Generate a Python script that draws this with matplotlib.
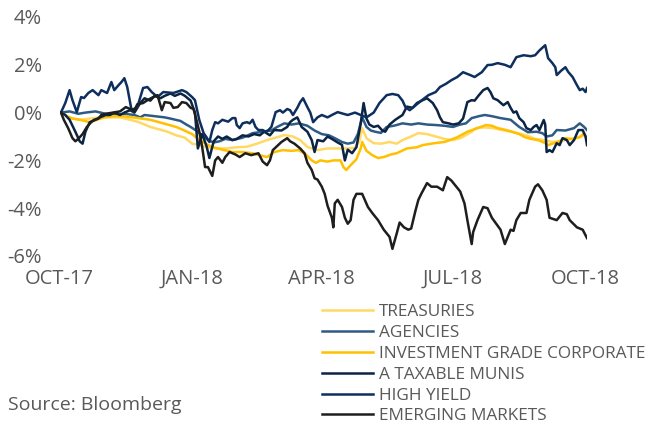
import matplotlib
matplotlib.use("Agg")
import matplotlib.pyplot as plt
import pandas as pd

plt.rcParams['font.family'] = ['Open Sans', 'DejaVu Sans']

start = pd.Timestamp("2017-10-02")

# cumulative excess return (%), days counted from 2 Oct 2017
treasuries_days = [0, 4, 8, 14, 20, 27, 34, 41, 48, 54, 62, 68, 74, 80, 86, 91, 96, 101, 108, 115,
                   122, 129, 136, 143, 149, 155, 161, 166, 171, 178, 185, 192, 199, 204, 207, 209,
                   212, 217, 222, 228, 233, 237, 243, 248, 254, 260, 266, 272, 278, 281, 285, 288,
                   294, 300, 306, 312, 317, 323, 329, 335, 341, 346, 350, 355, 359, 363, 365]
treasuries = [0, -0.15, -0.25, -0.3, -0.25, -0.2, -0.2, -0.2, -0.3, -0.4, -0.6, -0.7, -0.8, -0.95,
              -1.05, -1.3, -1.35, -1.44, -1.5, -1.5, -1.45, -1.43, -1.3, -1.15, -1.05, -0.94, -1.0,
              -1.15, -1.44, -1.57, -1.5, -1.5, -1.5, -1.48, -1.2, -0.65, -1.07, -1.28, -1.3, -1.23,
              -1.3, -1.15, -1.0, -0.86, -0.9, -1.0, -1.1, -1.15, -1.05, -0.94, -0.8, -0.65, -0.62,
              -0.65, -0.73, -0.8, -0.86, -0.95, -1.1, -1.15, -1.23, -1.2, -1.15, -1.1, -1.03, -0.95,
              -1.0]

agencies_days = [0, 6, 12, 17, 24, 31, 37, 44, 51, 55, 58, 65, 72, 76, 83, 87, 90, 95, 98, 102,
                 106, 110, 114, 119, 126, 133, 140, 146, 150, 155, 160, 165, 171, 176, 181, 186,
                 191, 195, 199, 203, 206, 209, 212, 215, 218, 222, 226, 231, 237, 243, 248, 254,
                 260, 266, 272, 277, 281, 285, 290, 294, 299, 305, 312, 318, 324, 330, 334, 337,
                 341, 344, 350, 356, 360, 363, 365]
agencies = [0, 0.05, -0.05, 0.0, 0.05, -0.05, -0.1, -0.05, -0.1, -0.2, -0.1, -0.15, -0.2, -0.25,
            -0.35, -0.5, -0.6, -0.8, -0.95, -1.15, -1.25, -1.2, -1.1, -1.15, -1.05, -0.86, -0.8,
            -0.75, -0.6, -0.45, -0.5, -0.45, -0.55, -0.75, -0.9, -0.95, -1.1, -1.23, -1.3, -1.25,
            -0.9, -0.2, -0.6, -0.75, -0.8, -0.85, -0.6, -0.55, -0.45, -0.5, -0.45, -0.5, -0.52,
            -0.55, -0.6, -0.5, -0.45, -0.23, -0.15, -0.1, -0.15, -0.23, -0.3, -0.6, -0.82, -0.8,
            -0.86, -1.0, -0.95, -0.73, -0.75, -0.65, -0.45, -0.6, -0.73]

ig_days = [0, 4, 8, 13, 20, 25, 30, 36, 43, 50, 56, 62, 68, 74, 80, 85, 91, 96, 102, 105, 112,
           119, 126, 133, 139, 143, 148, 154, 160, 165, 170, 174, 177, 180, 185, 189, 194, 196,
           198, 201, 205, 208, 209, 212, 216, 220, 224, 229, 233, 240, 247, 251, 259, 266, 270,
           275, 282, 289, 295, 299, 303, 309, 313, 318, 322, 326, 331, 335, 338, 341, 346, 349,
           355, 360, 363, 365]
ig = [0, -0.15, -0.25, -0.3, -0.4, -0.3, -0.2, -0.15, -0.15, -0.2, -0.25, -0.3, -0.4, -0.5, -0.6,
      -0.73, -0.9, -1.15, -1.35, -1.44, -1.55, -1.65, -1.65, -1.7, -1.8, -1.86, -1.65, -1.57,
      -1.6, -1.57, -1.75, -2.0, -2.1, -2.0, -2.05, -2.0, -2.0, -2.28, -2.4, -2.2, -1.95, -1.5,
      -1.23, -1.6, -1.78, -1.9, -1.86, -1.75, -1.7, -1.5, -1.45, -1.36, -1.28, -1.23, -1.15,
      -1.03, -0.8, -0.65, -0.52, -0.55, -0.65, -0.73, -0.8, -0.9, -1.03, -1.1, -1.15, -1.25,
      -1.36, -1.3, -1.2, -1.07, -1.1, -1.03, -0.86, -1.15]

munis_days = [0, 3, 6, 10, 13, 15, 17, 20, 24, 27, 31, 34, 37, 41, 44, 48, 51, 55, 58, 62, 65,
              69, 72, 76, 79, 83, 86, 90, 93, 95, 98, 101, 103, 106, 109, 112, 115, 119, 122,
              126, 130, 134, 138, 141, 145, 148, 153, 157, 159, 161, 164, 167, 171, 174, 176,
              178, 182, 185, 188, 192, 195, 197, 199, 202, 205, 208, 210, 212, 214, 217, 220,
              223, 225, 228, 232, 237, 240, 244, 247, 251, 254, 258, 261, 263, 265, 269, 272,
              276, 279, 282, 285, 287, 290, 293, 296, 298, 300, 303, 307, 310, 312, 314, 316,
              318, 321, 323, 326, 328, 330, 332, 335, 336, 337, 339, 341, 344, 346, 348, 351,
              353, 356, 359, 362, 364, 365]
munis = [0, -0.1, -0.3, -0.8, -1.2, -1.3, -0.8, -0.4, -0.3, -0.2, -0.1, -0.1, 0.0, -0.1, 0.0,
         0.1, 0.0, 0.4, 0.6, 0.5, 0.7, 0.6, 0.7, 0.8, 0.7, 0.8, 0.7, 0.5, 0.0, -1.5, -0.9, -1.4,
         -1.9, -1.2, -1.0, -1.1, -1.0, -1.15, -1.1, -0.95, -1.0, -0.9, -0.95, -0.8, -0.95, -0.73,
         -0.75, -0.6, -0.4, -0.3, -0.2, -0.6, -0.8, -1.15, -1.65, -1.15, -1.2, -1.0, -1.1, -1.25,
         -1.35, -2.0, -1.55, -1.7, -1.45, -0.45, 0.4, -0.25, -0.5, -0.6, -0.55, -0.75, -0.8,
         -0.5, -0.3, -0.1, 0.25, 0.2, 0.4, 0.52, 0.6, 0.4, 0.1, -0.2, -0.4, -0.45, -0.5, -0.45,
         -0.25, 0.44, 0.52, 0.5, 0.73, 0.94, 1.03, 0.86, 0.6, 0.52, 0.31, 0.44, 0.2, 0.0, 0.05,
         -0.23, -0.4, -0.65, -0.73, -0.6, -0.52, -0.73, -0.31, -0.5, -1.65, -1.57, -1.65, -1.28,
         -1.36, -1.07, -1.15, -1.36, -1.15, -0.73, -0.73, -1.0, -1.36]

hy_days = [0, 3, 6, 8, 11, 14, 16, 19, 22, 26, 28, 32, 35, 37, 40, 42, 44, 46, 49, 53, 57, 60,
           63, 67, 71, 78, 84, 87, 91, 93, 96, 99, 101, 103, 105, 107, 109, 112, 116, 119, 121,
           122, 124, 126, 129, 131, 133, 135, 137, 140, 142, 144, 146, 149, 152, 154, 157, 159,
           161, 164, 166, 168, 171, 173, 175, 178, 181, 185, 188, 192, 196, 199, 204, 208, 212,
           217, 221, 226, 230, 234, 237, 239, 242, 246, 250, 255, 260, 263, 267, 271, 275, 279,
           284, 287, 292, 296, 299, 303, 308, 312, 316, 321, 326, 329, 332, 336, 338, 341, 343,
           344, 347, 350, 352, 355, 358, 360, 362, 364, 365]
hy = [0, 0.4, 0.94, 0.52, 0.02, 0.65, 0.61, 0.82, 0.94, 0.73, 0.94, 0.82, 1.28, 0.94, 1.15, 1.28,
      1.44, 1.07, 0.1, 0.23, 1.03, 1.07, 0.86, 0.65, 0.86, 0.82, 0.94, 0.86, 0.65, 0.52, -0.31,
      -0.86, -1.03, -1.23, -0.73, -0.4, -0.45, -0.3, -0.38, -0.23, -0.23, -0.52, -0.65, -0.45,
      -0.4, -0.45, -0.3, -0.6, -0.73, -0.73, -0.8, -0.73, -0.6, 0.02, 0.1, 0.0, 0.15, 0.1, -0.1,
      0.2, 0.44, 0.6, 0.23, 0.0, -0.4, -0.2, -0.1, -0.2, -0.1, 0.02, -0.05, -0.1, 0.0, -0.1,
      -0.2, 0.0, 0.4, 0.73, 0.78, 0.73, 0.5, 0.23, 0.1, 0.3, 0.5, 0.73, 0.86, 1.07, 1.2, 1.36,
      1.49, 1.69, 1.57, 1.49, 1.69, 1.99, 2.0, 2.07, 2.0, 1.9, 2.32, 2.4, 2.36, 2.4, 2.6, 2.82,
      2.28, 2.07, 1.9, 1.57, 1.75, 1.9, 1.7, 1.49, 1.15, 0.94, 1.0, 0.86, 1.03]

em_days = [0, 2, 5, 8, 10, 12, 15, 18, 21, 23, 26, 28, 31, 36, 41, 45, 48, 51, 53, 57, 60, 64,
           67, 70, 72, 76, 78, 81, 84, 87, 90, 92, 94, 96, 98, 100, 102, 105, 107, 109, 112, 114,
           117, 121, 124, 128, 132, 137, 140, 143, 145, 147, 150, 153, 157, 159, 162, 166, 169,
           171, 174, 176, 178, 181, 183, 185, 188, 189, 190, 192, 195, 197, 199, 201, 203, 205,
           209, 213, 216, 220, 224, 228, 230, 233, 235, 238, 241, 243, 246, 248, 250, 254, 257,
           261, 265, 268, 271, 273, 277, 280, 282, 285, 286, 289, 293, 296, 299, 305, 308, 312,
           314, 316, 319, 323, 325, 329, 331, 334, 337, 339, 344, 348, 351, 353, 358, 362, 365]
em = [0, -0.3, -0.65, -1.07, -1.2, -1.1, -0.9, -0.6, -0.4, -0.3, -0.25, -0.1, -0.05, 0.0, 0.05,
      0.23, 0.15, 0.1, 0.35, 0.4, 0.52, 0.65, 0.73, 0.1, 0.44, 0.4, 0.2, 0.23, 0.44, 0.4, 0.2,
      0.15, -0.3, -0.8, -1.44, -2.28, -2.28, -2.65, -2.0, -1.86, -2.1, -1.86, -1.65, -1.75,
      -1.86, -1.7, -1.78, -1.7, -2.05, -2.2, -2.0, -1.57, -1.4, -1.23, -1.07, -1.2, -1.3, -1.5,
      -1.7, -2.1, -2.4, -2.75, -2.8, -3.1, -3.4, -3.9, -4.4, -4.8, -3.8, -3.65, -3.95, -4.4,
      -4.65, -4.5, -3.65, -3.4, -3.4, -3.95, -4.2, -4.5, -4.9, -5.2, -5.7, -5.05, -4.6, -4.8,
      -4.9, -4.85, -4.1, -3.65, -3.4, -2.95, -3.1, -3.1, -3.25, -2.7, -2.85, -3.0, -3.3, -3.8,
      -4.5, -5.5, -5.0, -4.5, -3.95, -4.0, -4.4, -4.9, -5.5, -4.9, -4.95, -4.5, -4.2, -4.2,
      -3.65, -3.1, -3.0, -3.25, -3.65, -4.4, -4.5, -4.2, -4.25, -4.5, -4.8, -4.9, -5.25]

series = [
    ("TREASURIES", treasuries_days, treasuries, "#FFD966"),
    ("AGENCIES", agencies_days, agencies, "#2E5B86"),
    ("INVESTMENT GRADE CORPORATE", ig_days, ig, "#FFC000"),
    ("A TAXABLE MUNIS", munis_days, munis, "#0B2443"),
    ("HIGH YIELD", hy_days, hy, "#0E2F5E"),
    ("EMERGING MARKETS", em_days, em, "#1E1E1E"),
]

tick_dates = ["2017-10-01", "2018-01-01", "2018-04-01", "2018-07-01", "2018-10-01"]
tick_labels = ["OCT-17", "JAN-18", "APR-18", "JUL-18", "OCT-18"]
y_ticks = [-6, -4, -2, 0, 2, 4]

grey = "#595959"

fig = plt.figure(figsize=(6.5, 4.25), dpi=100)
ax = fig.add_axes([59.5 / 650, 1 - 256 / 425, (587 - 59.5) / 650, (256 - 17) / 425])

for name, days, vals, color in series:
    dates = start + pd.to_timedelta(days, unit="D")
    ax.plot(dates, vals, color=color, lw=1.8, label=name, solid_joinstyle="round")

ax.set_xlim(pd.Timestamp("2017-10-01"), pd.Timestamp("2018-10-02"))
ax.set_ylim(-6, 4)
ax.set_yticks(y_ticks)
ax.set_yticklabels([f"{t}%" for t in y_ticks])
ax.set_xticks(pd.to_datetime(tick_dates))
ax.set_xticklabels(tick_labels)
for s in ax.spines.values():
    s.set_visible(False)
ax.tick_params(length=0, colors=grey, labelsize=14.5)
ax.tick_params(axis="y", pad=12.5)
ax.tick_params(axis="x", pad=9)

fig.legend(loc="upper left", bbox_to_anchor=(322 / 650, 1 - 304 / 425), frameon=False,
           fontsize=12.4, labelcolor=grey, handlelength=2.95, handletextpad=0.36,
           labelspacing=0.28, borderpad=0, borderaxespad=0)

fig.text(8 / 650, 1 - 405 / 425, "Source: Bloomberg", color=grey, fontsize=14, va="center")

fig.savefig("out.png", dpi=100)
